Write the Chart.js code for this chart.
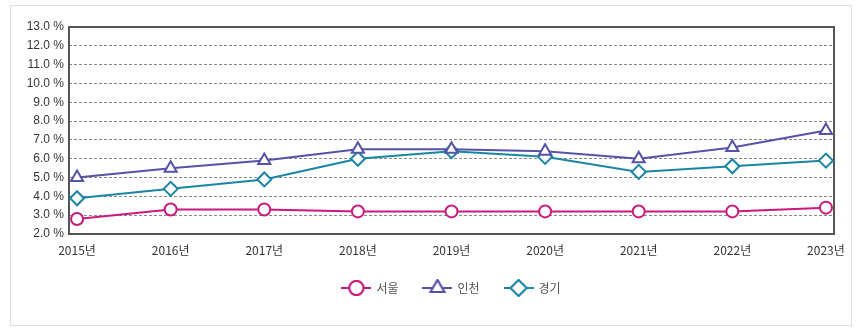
<!DOCTYPE html>
<html>
<head>
<meta charset="utf-8">
<script src="https://cdn.jsdelivr.net/npm/chart.js@4/dist/chart.umd.min.js"></script>
<style>
  html, body { margin: 0; padding: 0; background: #fff; }
  #card { position: absolute; left: 10px; top: 5px; width: 840px; height: 319px; border: 1px solid #ddd; }
  #card canvas { position: absolute; left: 0; top: 0; }
</style>
</head>
<body>
<div id="card"><canvas id="chart" width="840" height="319"></canvas></div>
<script>
const years = ["2015년", "2016년", "2017년", "2018년", "2019년", "2020년", "2021년", "2022년", "2023년"];
const seoul = [2.8, 3.3, 3.3, 3.2, 3.2, 3.2, 3.2, 3.2, 3.4];
const incheon = [5.0, 5.5, 5.9, 6.5, 6.5, 6.4, 6.0, 6.6, 7.5];
const gyeonggi = [3.9, 4.4, 4.9, 6.0, 6.4, 6.1, 5.3, 5.6, 5.9];
const seriesNames = ["서울", "인천", "경기"];
const colors = ["#c8197d", "#5652a6", "#1a85a3"];
const styles = ["circle", "triangle", "rectRot"];

// 범례 아이콘: 선 + 마커
function legendIcon(color, style) {
    const c = document.createElement("canvas");
    c.width = 30; c.height = 18;
    const ctx = c.getContext("2d");
    ctx.strokeStyle = color;
    ctx.lineWidth = 2;
    ctx.beginPath(); ctx.moveTo(0, 9); ctx.lineTo(30, 9); ctx.stroke();
    ctx.fillStyle = "#fff";
    Chart.helpers.drawPoint(ctx, { pointStyle: style, radius: style === "circle" ? 7 : 8, borderWidth: 2 }, 15, 9);
    ctx.fill(); ctx.stroke();
    return c;
}

const frame = {
    id: "frame",
    beforeDatasetsDraw(chart) {
        const { ctx, chartArea: a } = chart;
        ctx.save();
        ctx.strokeStyle = "#555";
        ctx.lineWidth = 2;
        ctx.strokeRect(a.left, a.top, a.right - a.left, a.bottom - a.top);
        ctx.restore();
    }
};

const datasets = [seoul, incheon, gyeonggi].map((vals, i) => ({
    label: seriesNames[i],
    data: vals.map((v, j) => ({ x: j, y: v })),
    borderColor: colors[i],
    backgroundColor: "#fff",
    borderWidth: 2,
    pointStyle: styles[i],
    pointRadius: i === 0 ? 6 : 7,
    pointBorderWidth: 2,
    pointBackgroundColor: "#fff",
    tension: 0
}));

new Chart(document.getElementById("chart"), {
    type: "line",
    data: { datasets },
    plugins: [frame],
    options: {
        responsive: false,
        animation: false,
        layout: { padding: { top: 21, right: 17, left: 0, bottom: 21 } },
        plugins: {
            tooltip: { enabled: false },
            legend: {
                position: "bottom",
                fullSize: false,
                labels: {
                    usePointStyle: true,
                    pointStyleWidth: 28,
                    padding: 25,
                    color: "#555",
                    font: { family: "'Noto Sans CJK KR', 'Liberation Sans'", size: 12 },
                    generateLabels: chart => chart.data.datasets.map((ds, i) => ({
                        text: ds.label,
                        pointStyle: legendIcon(colors[i], styles[i]),
                        fontColor: "#555",
                        datasetIndex: i,
                        lineWidth: 0
                    }))
                }
            }
        },
        scales: {
            x: {
                type: "linear",
                min: -0.086,
                max: 8.086,
                afterBuildTicks: axis => { axis.ticks = years.map((y, i) => ({ value: i })); },
                afterFit: axis => { axis.height = 23; },
                grid: { display: false },
                border: { display: false },
                ticks: {
                    callback: v => years[v],
                    color: "#333",
                    padding: 1,
                    maxRotation: 0,
                    font: { family: "'Noto Sans CJK KR', 'Liberation Sans'", size: 12 }
                }
            },
            y: {
                min: 2,
                max: 13,
                afterFit: axis => { axis.width = 58; },
                border: { display: false, dash: [3, 2] },
                grid: {
                    color: "#888",
                    drawTicks: false
                },
                ticks: {
                    stepSize: 1,
                    padding: 5,
                    color: "#333",
                    callback: v => v.toFixed(1) + " %",
                    font: { family: "'Liberation Sans', 'Noto Sans CJK KR'", size: 12 }
                }
            }
        }
    }
});
</script>
</body>
</html>
